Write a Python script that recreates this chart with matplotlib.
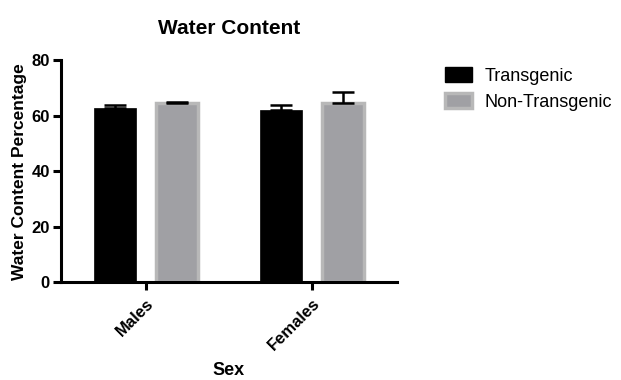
import matplotlib
matplotlib.use("Agg")
import matplotlib.pyplot as plt
import numpy as np
from matplotlib.patches import Patch

plt.rcParams['font.family'] = ['Liberation Sans', 'DejaVu Sans']

sexes = ["Males", "Females"]
transgenic_mean = [62.8, 62.2]
transgenic_sem = [1.1, 1.6]
nontransgenic_mean = [64.6, 64.6]
nontransgenic_sem = [0.4, 4.0]
y_ticks = [0, 20, 40, 60, 80]

fig = plt.figure(figsize=(6.21, 3.80), dpi=100)
ax = fig.add_axes([0.0982, 0.2579, 0.541, 0.583])

x = np.arange(len(sexes))
offset = 0.187
width = 0.255

ax.bar(x - offset, transgenic_mean, width, color="black", edgecolor="black",
       linewidth=0.5, zorder=2)
ax.bar(x + offset, nontransgenic_mean, width, color="#a0a0a4", edgecolor="#b8b8b8",
       linewidth=2.5, zorder=2)

err_kw = dict(fmt="none", ecolor="black", elinewidth=1.8, capsize=8, capthick=1.8, zorder=3)
ax.errorbar(x - offset, transgenic_mean,
            yerr=[np.zeros(len(sexes)), transgenic_sem], **err_kw)
ax.errorbar(x + offset, nontransgenic_mean,
            yerr=[np.zeros(len(sexes)), nontransgenic_sem], **err_kw)

ax.set_xlim(-0.512, 1.512)
ax.set_ylim(0, 80)
ax.set_yticks(y_ticks)
ax.set_xticks(x)
ax.set_xticklabels(sexes, rotation=45, ha="right", rotation_mode="anchor",
                   fontsize=12, fontweight="bold")
for lbl in ax.get_yticklabels():
    lbl.set_fontsize(12)
    lbl.set_fontweight("bold")

for side in ("top", "right"):
    ax.spines[side].set_visible(False)
for side in ("left", "bottom"):
    ax.spines[side].set_linewidth(2.2)
ax.tick_params(axis="both", width=2.2, length=6, pad=2)
ax.tick_params(axis="x", pad=4)

ax.set_ylabel("Water Content Percentage", fontsize=12.5, fontweight="bold", labelpad=3)
ax.set_xlabel("Sex", fontsize=13, fontweight="bold", labelpad=6)
ax.set_title("Water Content", fontsize=15, fontweight="bold", pad=19)

handles = [Patch(facecolor="black", edgecolor="black"),
           Patch(facecolor="#a0a0a4", edgecolor="#b8b8b8", linewidth=2.5)]
fig.legend(handles, ["Transgenic", "Non-Transgenic"], loc="upper left",
           bbox_to_anchor=(0.705, 0.842), frameon=False, fontsize=13,
           handlelength=1.5, handleheight=0.9, handletextpad=0.7, labelspacing=0.45,
           borderaxespad=0)

fig.savefig("out.png", dpi=100)
